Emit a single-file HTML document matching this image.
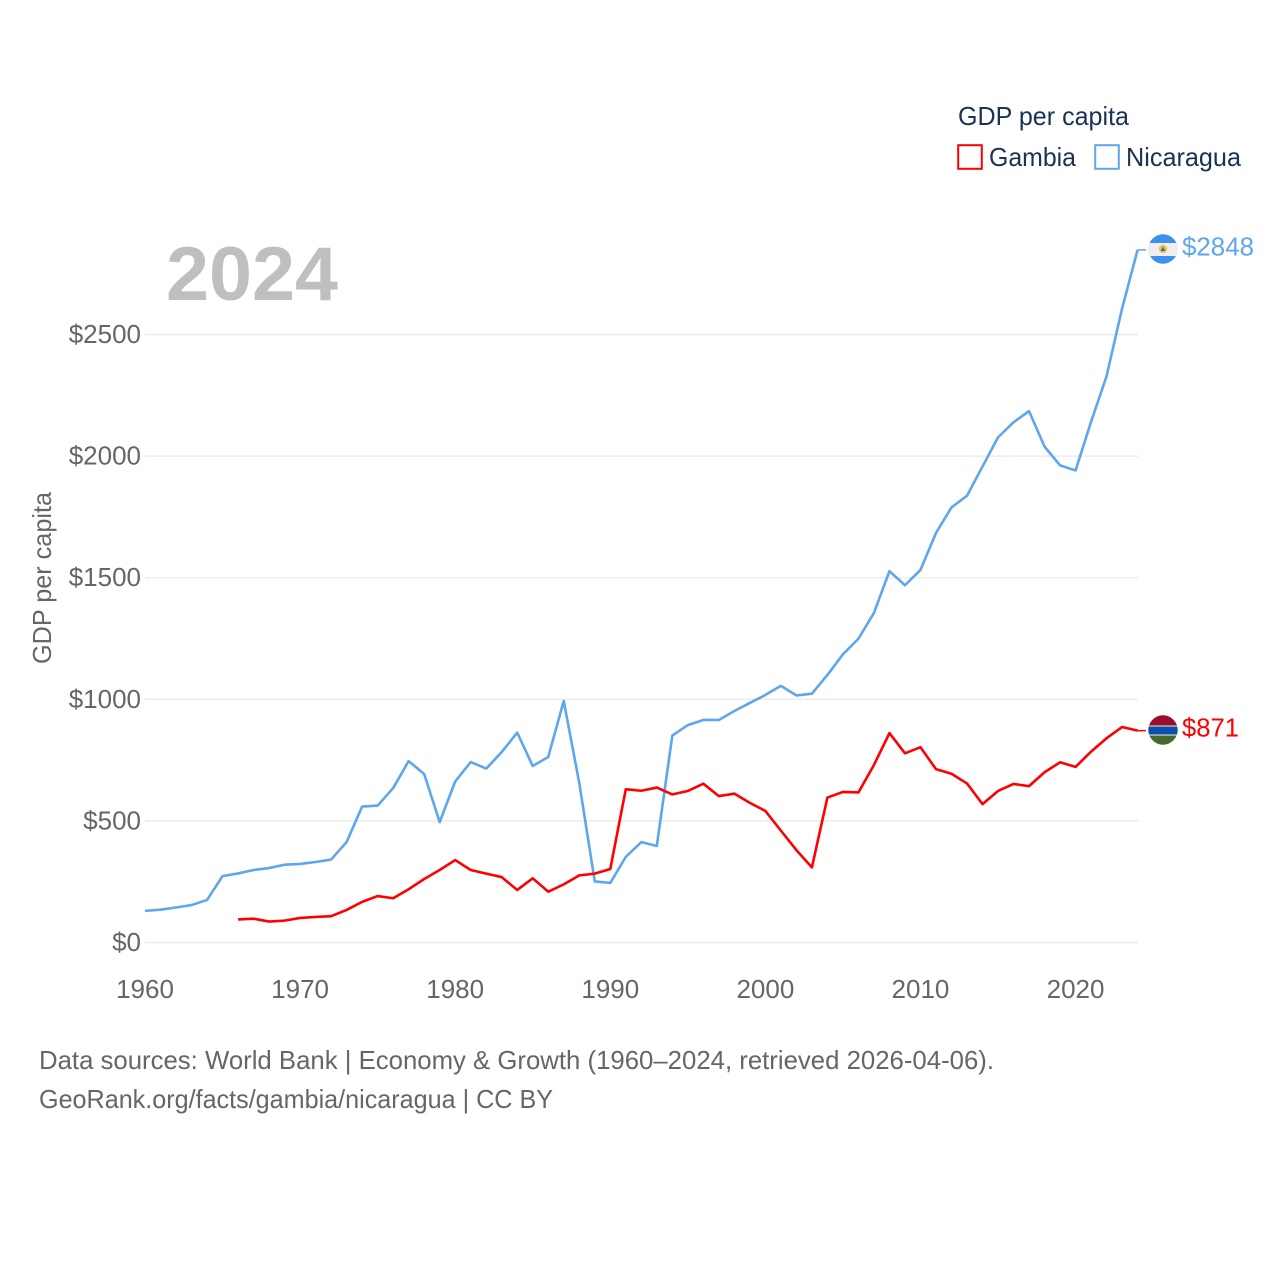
<!DOCTYPE html>
<html lang="en">
<head>
<meta charset="utf-8">
<title>GDP per capita: Gambia and Nicaragua</title>
<style>
html,body{margin:0;padding:0;background:#fff}
svg{display:block}
text{font-family:"Liberation Sans",sans-serif}
</style>
</head>
<body>
<svg id="chart" width="1280" height="1280" viewBox="0 0 1280 1280" xmlns="http://www.w3.org/2000/svg">
  <rect width="1280" height="1280" fill="#fff"/>
  <g id="grid"></g>
  <g id="yticks"></g>
  <g id="xticks"></g>
  <text x="166" y="300" font-size="76" font-weight="700" fill="#bfbfbf" textLength="172" lengthAdjust="spacingAndGlyphs">2024</text>
  <text transform="translate(51,664) rotate(-90)" font-size="26" fill="#666" textLength="172" lengthAdjust="spacingAndGlyphs">GDP per capita</text>
  <g id="series"></g>

  <defs>
    <clipPath id="clip-nic"><circle cx="1163" cy="249" r="14.7"/></clipPath>
    <clipPath id="clip-gam"><circle cx="1163" cy="730" r="14.7"/></clipPath>
  </defs>
  <g id="flag-nicaragua" clip-path="url(#clip-nic)">
    <rect x="1148" y="234" width="30" height="30" fill="#3d8ff0"/>
    <rect x="1148" y="243" width="30" height="13" fill="#efefef"/>
    <circle cx="1163" cy="249" r="4.2" fill="#f2c43c"/>
    <polygon points="1160.6,251 1165.4,251 1163,246.4" fill="#2a6fc0"/>
  </g>
  <g id="flag-gambia" clip-path="url(#clip-gam)">
    <rect x="1148" y="715" width="30" height="11" fill="#9a0d2c"/>
    <rect x="1148" y="725.5" width="30" height="10" fill="#e8eef4"/>
    <rect x="1148" y="726.5" width="30" height="8" fill="#0b50a8"/>
    <rect x="1148" y="735.5" width="30" height="10" fill="#47692f"/>
  </g>
  <text x="1182" y="255.5" font-size="26" fill="#5ea6ed" textLength="72" lengthAdjust="spacingAndGlyphs">$2848</text>
  <text x="1182" y="736.5" font-size="26" fill="#ff0000" textLength="57" lengthAdjust="spacingAndGlyphs">$871</text>

  <g>
    <text x="958" y="125" font-size="26" fill="#1a3354" textLength="171" lengthAdjust="spacingAndGlyphs">GDP per capita</text>
    <g>
      <rect x="958.2" y="145.2" width="23.6" height="23.6" fill="none" stroke="#ff0000" stroke-width="2"/>
      <text x="989" y="166" font-size="26" fill="#1a3354" textLength="87" lengthAdjust="spacingAndGlyphs">Gambia</text>
    </g>
    <g>
      <rect x="1095.2" y="145.2" width="23.6" height="23.6" fill="none" stroke="#5ea6ed" stroke-width="2"/>
      <text x="1126" y="166" font-size="26" fill="#1a3354" textLength="115" lengthAdjust="spacingAndGlyphs">Nicaragua</text>
    </g>
  </g>

  <text x="39" y="1069" font-size="26" fill="#666" textLength="955" lengthAdjust="spacingAndGlyphs">Data sources: World Bank | Economy &amp; Growth (1960–2024, retrieved 2026-04-06).</text>
  <text x="39" y="1108" font-size="26" fill="#666" textLength="514" lengthAdjust="spacingAndGlyphs">GeoRank.org/facts/gambia/nicaragua | CC BY</text>
</svg>
<script>
var years = [];
for (var yr = 1960; yr <= 2024; yr++) years.push(yr);
var gambiaStartYear = 1966;
var yTickValues = [0, 500, 1000, 1500, 2000, 2500];
var yTickLabels = ['$0', '$500', '$1000', '$1500', '$2000', '$2500'];
var xTickValues = [1960, 1970, 1980, 1990, 2000, 2010, 2020];
var xTickLabels = ['1960', '1970', '1980', '1990', '2000', '2010', '2020'];
var nicaraguaValues = [130,135,144,154,175,273,284,298,306,320,323,331,341,413,559,563,635,746,693,495,662,742,715,783,863,726,763,993,656,251,245,352,413,397,851,894,915,915,952,985,1018,1055,1016,1023,1100,1185,1249,1355,1527,1469,1532,1684,1789,1837,1957,2077,2139,2185,2039,1962,1941,2141,2329,2607,2848];
var gambiaValues = [95,98,86,90,101,105,108,134,167,191,182,219,261,298,339,298,283,269,216,264,209,239,276,283,302,630,624,637,609,623,653,602,612,574,541,460,380,309,596,619,617,730,861,778,803,713,694,654,569,623,652,643,700,741,722,785,840,886,871];

var NS = 'http://www.w3.org/2000/svg';
function xScale(year) { return 145 + (year - 1960) * (1137.6 - 145) / 64; }
function yScale(value) { return 942.5 - value * (942.5 - 334.5) / 2500; }

var grid = document.getElementById('grid');
var yticks = document.getElementById('yticks');
yTickValues.forEach(function (v, i) {
  var line = document.createElementNS(NS, 'line');
  
  
  line.setAttribute('x1', 145);
  line.setAttribute('x2', 1138);
  line.setAttribute('y1', yScale(v));
  line.setAttribute('y2', yScale(v));
  line.setAttribute('stroke', '#ececec');
  line.setAttribute('stroke-width', '1.5');
  grid.appendChild(line);
  var t = document.createElementNS(NS, 'text');
  
  
  t.setAttribute('x', 141);
  t.setAttribute('y', yScale(v) + 8.5);
  t.setAttribute('text-anchor', 'end');
  t.setAttribute('font-size', '26');
  t.setAttribute('fill', '#666');
  t.textContent = yTickLabels[i];
  yticks.appendChild(t);
});

var xticks = document.getElementById('xticks');
xTickValues.forEach(function (v, i) {
  var t = document.createElementNS(NS, 'text');
  
  
  t.setAttribute('x', xScale(v));
  t.setAttribute('y', 998);
  t.setAttribute('text-anchor', 'middle');
  t.setAttribute('font-size', '26');
  t.setAttribute('fill', '#666');
  t.textContent = xTickLabels[i];
  xticks.appendChild(t);
});

var series = document.getElementById('series');
function buildPoints(values, startYear) {
  return values.map(function (v, i) {
    return xScale(startYear + i).toFixed(2) + ',' + yScale(v).toFixed(2);
  }).join(' ');
}
function endConnector(values, color) {
  var last = values[values.length - 1];
  var c = document.createElementNS(NS, 'line');
  
  
  c.setAttribute('x1', xScale(years[years.length - 1]));
  c.setAttribute('x2', 1146);
  c.setAttribute('y1', yScale(last));
  c.setAttribute('y2', yScale(last));
  c.setAttribute('stroke', color);
  c.setAttribute('stroke-width', '1.5');
  series.appendChild(c);
}

var nicaraguaLine = document.createElementNS(NS, 'polyline');


nicaraguaLine.setAttribute('points', buildPoints(nicaraguaValues, years[0]));
nicaraguaLine.setAttribute('fill', 'none');
nicaraguaLine.setAttribute('stroke', '#5ea6ed');
nicaraguaLine.setAttribute('stroke-width', '2.6');
nicaraguaLine.setAttribute('stroke-linejoin', 'round');
series.appendChild(nicaraguaLine);
endConnector(nicaraguaValues, '#5ea6ed');

var gambiaLine = document.createElementNS(NS, 'polyline');


gambiaLine.setAttribute('points', buildPoints(gambiaValues, gambiaStartYear));
gambiaLine.setAttribute('fill', 'none');
gambiaLine.setAttribute('stroke', '#ff0000');
gambiaLine.setAttribute('stroke-width', '2.6');
gambiaLine.setAttribute('stroke-linejoin', 'round');
series.appendChild(gambiaLine);
endConnector(gambiaValues, '#ff0000');
</script>
</body>
</html>
